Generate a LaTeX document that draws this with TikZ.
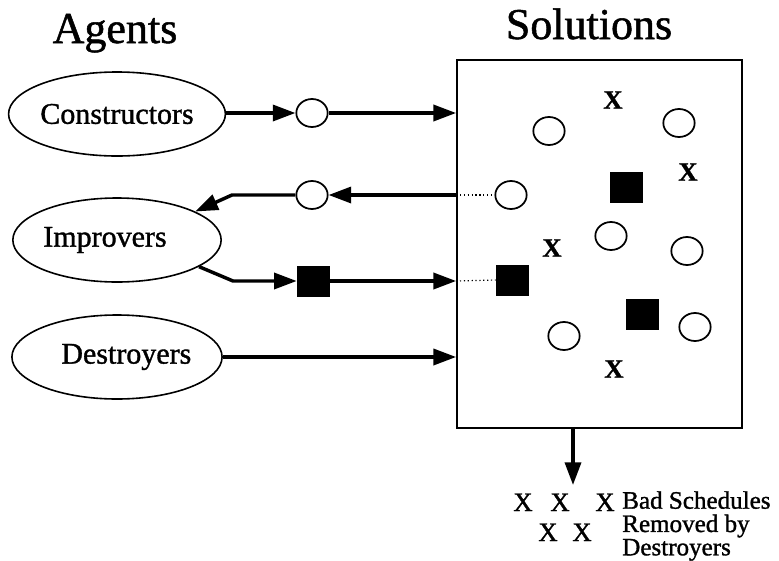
\documentclass[tikz,border=0pt]{standalone}
\usepackage{fontspec}
\setmainfont{Liberation Serif}[FakeBold=1.2]
\usetikzlibrary{arrows.meta, shapes.geometric}

\begin{document}
\begin{tikzpicture}[x=0.75pt, y=-0.75pt,
    agent/.style={draw, ellipse, line width=1.2pt, minimum width=155pt,
      minimum height=63pt, inner sep=0pt, font=\fontsize{22.5}{24}\selectfont},
    soln/.style={draw, ellipse, line width=1.3pt, minimum width=23.5pt,
      minimum height=21pt, inner sep=0pt},
    improved/.style={draw, fill=black, minimum width=24pt, minimum height=22.5pt,
      inner sep=0pt},
    reject/.style={inner sep=0pt, font=\bfseries\fontsize{20}{20}\selectfont},
    gone/.style={inner sep=0pt, anchor=base, font=\fontsize{20}{20}\selectfont},
    flow/.style={line width=2.6pt, -{Triangle[length=17pt, width=12pt]}},
    trace/.style={dotted, line width=0.9pt}
  ]
  \useasboundingbox (0,0) rectangle (779,561);

  % column headings
  \node[anchor=base, font=\fontsize{33}{33}\selectfont] (agentsttl) at (115,43) {Agents};
  \node[anchor=base, font=\fontsize{33}{33}\selectfont] (solttl) at (589,39) {Solutions};

  % the three kinds of agent
  \node[agent] (cons) at (117,114) {Constructors};
  \node[agent] (impr) at (117,240) {Improvers\hspace*{18pt}};
  \node[agent] (dest) at (117,357) {\hspace*{14pt}Destroyers};

  % pool of solutions
  \node[draw, line width=1.3pt, minimum width=213.75pt, minimum height=276pt,
    inner sep=0pt] (box) at (599.5,244) {};

  \node[reject] (r1) at (613,100) {X};
  \node[soln] (p1) at (549,131) {};
  \node[soln] (p2) at (679,123) {};
  \node[reject] (r2) at (688,172) {X};
  \node[improved] (q2) at (626,187) {};
  \node[soln] (p3) at (511,195) {};
  \node[reject] (r3) at (552,248) {X};
  \node[soln] (p4) at (611,236) {};
  \node[soln] (p5) at (687,251) {};
  \node[improved] (q3) at (512,280) {};
  \node[improved] (q4) at (642,314) {};
  \node[soln] (p6) at (564,336) {};
  \node[soln] (p7) at (695,327) {};
  \node[reject] (r4) at (614,369) {X};

  % tokens on the way in and out
  \node[soln] (c1) at (312,113) {};
  \node[soln] (c2) at (312,195) {};
  \node[improved] (q1) at (313,281) {};
  \coordinate (bendin) at (232,195);
  \coordinate (bendout) at (233,281);

  \draw[flow] (cons.east |- c1) -- (c1.west);
  \draw[flow] (c1.east) -- (c1 -| box.west);

  \draw[flow] (c2 -| box.west) -- (c2.east);
  \draw[flow] (c2.west) -- (bendin) -- (impr.20);
  \draw[trace] (c2 -| box.west) -- (p3.west);

  \draw[flow] (impr.-18) -- (bendout) -- (q1.west);
  \draw[flow] (q1.east) -- (q1 -| box.west);
  \draw[trace] (q1 -| box.west) -- (q3.west);

  \draw[flow] (dest.east) -- (dest -| box.west);

  % removed schedules
  \coordinate (drop) at (573,485);
  \draw[flow] (drop |- box.south) -- (drop);
  \node[gone] (x1) at (523,511) {X};
  \node[gone] (x2) at (560,511) {X};
  \node[gone] (x3) at (605,511) {X};
  \node[gone] (x4) at (548,541) {X};
  \node[gone] (x5) at (582,541) {X};
  \node[anchor=north west, align=left, inner sep=0pt,
    font=\fontsize{18.8}{17.5}\selectfont] (badtxt) at (622,491)
    {Bad Schedules\\Removed by\\Destroyers};
\end{tikzpicture}
\end{document}
